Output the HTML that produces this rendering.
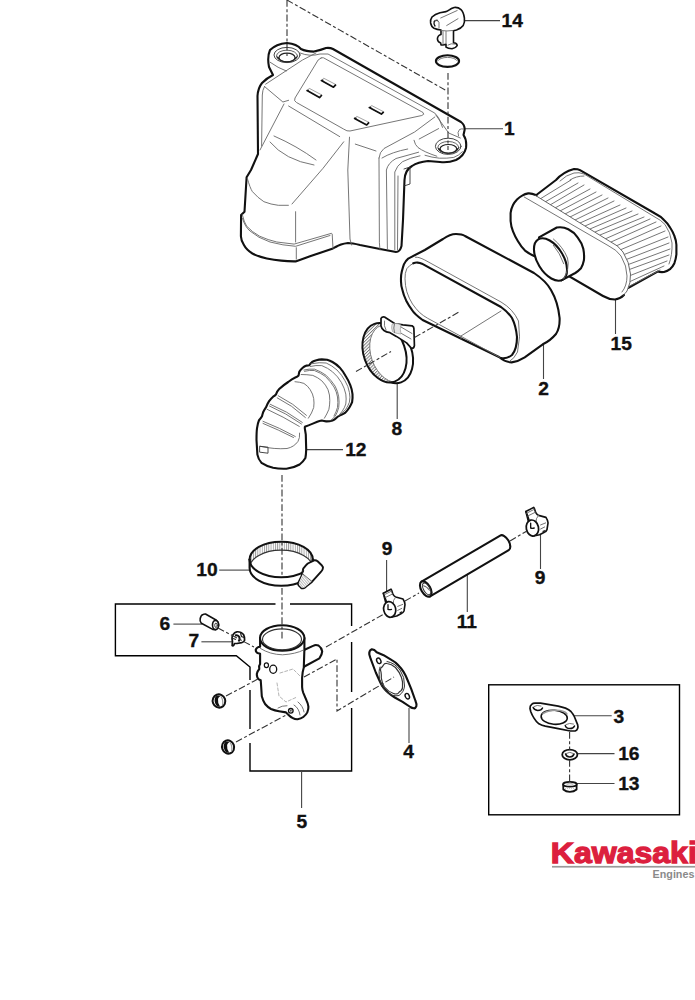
<!DOCTYPE html>
<html><head><meta charset="utf-8">
<style>
html,body{margin:0;padding:0;background:#fff;width:695px;height:1000px;overflow:hidden}
svg{display:block}
.lb{font-family:"Liberation Sans",sans-serif;font-weight:bold;font-size:19.2px;fill:#111;stroke:#111;stroke-width:0.35}
.ld{stroke:#444;stroke-width:1.1;fill:none}
.bx{stroke:#000;stroke-width:1.4;fill:none}
.ds{stroke:#333;stroke-width:1.1;fill:none;stroke-dasharray:6.8 2.4 3 2.4}
.o{stroke:#111;stroke-width:2.1;fill:none;stroke-linejoin:round;stroke-linecap:round}
.t{stroke:#666;stroke-width:0.9;fill:none;stroke-linejoin:round;stroke-linecap:round}
.w{fill:#fff}
</style></head><body>
<svg width="695" height="1000" viewBox="0 0 695 1000">
<!-- BOXES -->
<g class="bx">
<path d="M275.5 604 L115.4 604 L115.4 655.7 L236.3 655.7 L250 667 L250 680"/>
<path d="M290 604 L351.6 604 L351.6 626"/>
<path d="M351.6 642 L351.6 692"/>
<path d="M351.6 708 L351.6 771 L250 771 L250 743"/>
<path d="M250 690 L250 729"/>
<rect x="488.7" y="684.8" width="190.8" height="130"/>
</g>
<!-- LEADERS -->
<g class="ld">
<path d="M465 20.6 H500"/>
<path d="M462 128.7 H503"/>
<path d="M615.5 299.6 V334"/>
<path d="M543.5 344 V379"/>
<path d="M397.2 383 V419"/>
<path d="M306 449.6 H343"/>
<path d="M219.2 570.1 H249.7"/>
<path d="M173.4 624.1 H202"/>
<path d="M201.4 641.8 H232"/>
<path d="M386.6 560 V591"/>
<path d="M467.3 574.3 V612"/>
<path d="M540.5 534.5 V569"/>
<path d="M409 708 V743"/>
<path d="M301.6 771 V808"/>
<path d="M574.2 715.8 H611.7"/>
<path d="M578 753.6 H614.5"/>
<path d="M577 783.5 H614.5"/>
</g>
<!-- LABELS -->
<g class="lb">
<text x="501.5" y="27.3">14</text>
<text x="504.0" y="135.4">1</text>
<text x="610.5" y="349.6">15</text>
<text x="538.3" y="395.2">2</text>
<text x="391.5" y="434.9">8</text>
<text x="345.2" y="456.2">12</text>
<text x="196.3" y="576.3">10</text>
<text x="159.4" y="629.8">6</text>
<text x="188.4" y="646.5">7</text>
<text x="381.8" y="554.9">9</text>
<text x="456.7" y="628.0">11</text>
<text x="534.8" y="583.7">9</text>
<text x="403.2" y="757.7">4</text>
<text x="296.4" y="828.3">5</text>
<text x="613.6" y="722.5">3</text>
<text x="618.2" y="760.3">16</text>
<text x="618.2" y="790.2">13</text>
</g>
<!-- PARTS -->
<g id="p1">
<!-- outer contour -->
<path class="o w" d="M273 75 L269 67 Q267 57 270 50 Q276 44 287 43 Q297 44 301 49 Q306 51.5 314 51.6 Q321 50 326 48 Q330 47.5 333 49 L461 122 Q465 125 464.6 130 L463.5 135 Q467 140 466 148 Q464 156 456 160 Q448 163 440 162 L428 161 Q418 162 412 166 Q405 170 404.5 180 L403 220 L401.5 246 Q400 252 396 252 L380 249 L360 245 Q352 243 348 243 Q340 244 336 247 L336.5 246.5 L333 248.4 L310 256.3 L295.6 261.4 Q288 261.5 281.2 260.6 Q274 260 266.8 258.5 Q258 256.5 252.4 253.5 Q246.5 250 243.8 244.8 Q241 240 240.9 236.2 L241.1 215 L244.5 211.7 L246.6 177.2 L251 170 L258 154 L257.5 96 Q258 88 262 83 Q267 78 273 75 Z"/>
<!-- left boss -->
<ellipse cx="287" cy="55" rx="13" ry="7.6" class="t" style="stroke:#444;stroke-width:1"/>
<ellipse cx="287" cy="56" rx="10.5" ry="5.8" class="t" style="stroke:#555;stroke-width:0.9"/>
<path d="M276.5 56 A10.5 5.8 0 0 0 297.5 56 L295 57.5 A8 4.4 0 0 1 279 57.5 Z" style="fill:#222"/>
<ellipse cx="287" cy="57.5" rx="8" ry="4.4" class="t" style="stroke:#222;stroke-width:1.2"/>
<!-- right boss -->
<ellipse cx="448.2" cy="146.3" rx="12.8" ry="8.1" class="t" style="stroke:#444;stroke-width:1"/>
<ellipse cx="448.3" cy="147.5" rx="10.5" ry="6" class="t" style="stroke:#555;stroke-width:0.9"/>
<path d="M437.8 147.5 A10.5 6 0 0 0 458.8 147.5 L456.7 148.8 A8.3 4.3 0 0 1 440.1 148.8 Z" style="fill:#222"/>
<ellipse cx="448.4" cy="148.8" rx="8.3" ry="4.3" class="t" style="stroke:#222;stroke-width:1.2"/>
<path class="t" d="M425 155.3 Q432 157.5 439.4 158.2 Q447 158.5 453.8 157.4 Q459 155.5 462.4 151.7"/>
<path class="t" d="M458.5 136 Q457 132 459.5 129.5 Q461.5 128.5 463.5 129"/>
<path class="t" d="M435.8 115 L448.7 133 L460.3 138"/>
<!-- inner top lines -->
<path class="t" d="M300 53 Q310 57 320 54 L328 54 L434.8 113.1 Q439.5 118 440 121 L442.5 127.4"/>
<path class="t" d="M265.6 84.2 L302.5 60 L316 53"/>
<path class="t" d="M270.2 62.3 Q278 68 286.3 71"/>
<path class="t" d="M321 58 Q317.5 59.5 316.3 63 L295 98 Q293.5 101 296.5 102.5 L343.7 129.1 Q347 131.5 350 131 L421.8 115.5 Q425 114.5 423 112.5 L421.8 111.8 L323.5 57.8 Q322 57.5 321 58 Z"/>
<path class="t" d="M288.6 106 L339.7 136.6"/>
<path class="t" d="M264.5 86.5 L282.9 102 L288.6 100.3"/>
<path class="t" d="M264.5 86.5 Q262.4 90 262.3 95 L261.6 146"/>
<!-- slots -->
<path d="M321.4 80.5 L333.5 87.2 L335.9 84.6 L323.7 78.2 Z" style="fill:#fff;stroke:#999;stroke-width:0.9"/>
<path d="M323.4 80.4 L321.4 80.5 L333.5 87.2 L335.9 84.6" style="fill:none;stroke:#111;stroke-width:1.7;stroke-linejoin:round"/>
<path d="M307.1 90.6 L319.5 97.6 L321.9 95 L309.2 88.3 Z" style="fill:#fff;stroke:#999;stroke-width:0.9"/>
<path d="M308.9 90.5 L307.1 90.6 L319.5 97.6 L321.9 95" style="fill:none;stroke:#111;stroke-width:1.7;stroke-linejoin:round"/>
<path d="M369.3 107.5 L381.4 114.1 L383.7 111.8 L371.6 105.5 Z" style="fill:#fff;stroke:#999;stroke-width:0.9"/>
<path d="M371.3 107.7 L369.3 107.5 L381.4 114.1 L383.7 111.8" style="fill:none;stroke:#111;stroke-width:1.7;stroke-linejoin:round"/>
<path d="M354.6 118.4 L366.7 125 L369 122.4 L356.9 116.4 Z" style="fill:#fff;stroke:#999;stroke-width:0.9"/>
<path d="M356.59999999999997 118.60000000000001 L354.6 118.4 L366.7 125 L369 122.4" style="fill:none;stroke:#111;stroke-width:1.7;stroke-linejoin:round"/>
<!-- front face lines -->
<path class="t" d="M284 104 L260 150"/>
<path class="t" d="M349.5 137.2 L347.8 170 L350 239 L351.5 245"/>
<path class="t" d="M343.7 141.8 L323 168.3 L292 204"/>
<path class="t" d="M295.6 211.7 L295.6 242"/><path class="t" d="M296.3 247.7 L296.3 259.2"/>
<path class="t" d="M247.4 178.6 Q250 188 252.4 191.6 Q258 198 263.9 201.7 Q271 204.5 278.3 205.3 L288.4 205.3"/>
<path class="t" d="M274 136 Q297 146 316 160"/>
<path class="t" d="M270 142 Q285 160 314 165"/>
<path class="t" d="M355.3 144.1 L376 151"/>
<path class="t" d="M379 158 L379.4 242.8 L380 250"/>
<path class="t" d="M379 158 Q379.5 152 384 148.5 L414.6 132 L434.8 117"/>
<path class="t" d="M420 155.8 Q410 157.8 402.5 161.7 Q397 165.5 394.8 172 L394.8 249.7"/><path class="t" d="M398 176 L397.5 250"/><path class="t" d="M382 158 Q392 152 407.7 149"/>
<path class="t" d="M418.6 152.2 L396 158.5 Q388 163 386.4 170 L387.4 248.9"/>
<path class="t" d="M414 140.3 Q415 145 418 147.5 Q424 152 436.8 156.2"/>
<path class="t" d="M419.2 139 L438.6 128.6"/>
<!-- tab -->
<path class="t" style="stroke:#333" d="M404 169 L410 167 L410 184 L404 186"/>
<!-- bottom lip -->
<path class="t" d="M242.3 214.6 Q244 222 246.6 226.1 Q252 232 259.6 236.2 Q268 240 276.8 242 L294.1 244.1 L331.5 233.3 L332.2 234 L333 248.4"/>
<path class="t" d="M242.5 218.5 Q245 227 250 231 Q258 238 270 242 Q283 245.5 295.6 246.3 L330 235.5"/>
</g>
<g id="p14">
<path class="o w" style="stroke-width:1.6" d="M441 30 L441 34.5 Q437.5 35.5 437.4 39 Q437.6 42 440.7 43 L441 45 L443 45 L446 44.2 L446 47.2 Q448 48.6 452 48.7 Q456 48 457.2 45.5 Q457 43 453.5 42.7 L453.5 30.7 L456.5 30 Q461 28.5 463.2 25.5 Q465 21.7 464.4 18 Q463.5 12 461 9.7 Q458 7 454.2 7.5 Q451 8.5 449.7 9.7 Q447 11.6 446 11.6 L440 12.7 Q435 14 432 17 Q430 20 430.6 23 Q431.5 27 434 28.2 Q437 29.5 441 30 Z"/>
<path class="o" style="stroke-width:1.3" d="M435 26 Q433.5 24 434.2 21.5 Q435.5 20 437.5 20.5"/>
<path class="t" d="M434.5 20.5 Q437.5 19 439 22 L439 28"/>
<path class="t" d="M440.7 18 L457.2 10.5"/>
<path class="t" d="M446.7 25.5 L458 18.7"/>
<path class="t" d="M443 31.5 L443 44.2"/>
<path class="t" d="M446 31.5 L446 43.5"/>
<path class="t" d="M441 30.5 Q447 31.5 453 30.5"/>
<path class="t" d="M448 45 Q451 43 455 44"/>
<ellipse cx="447.5" cy="61.1" rx="11.6" ry="5.8" class="o" style="stroke-width:2.1"/>
<path class="t" d="M437.5 61 Q440 57.5 447.5 57.4 Q455 57.5 457.5 61"/>
</g>
<g id="p15">
<!-- back / pleat body silhouette -->
<path class="o w" d="M535 196 L556 180 Q563 172 574 169 Q578 169 580 170.2 L655 213.5 Q661 216.5 664 220 Q668 223.5 670.4 228 Q673 232 674.4 236 Q676.2 240.5 676.4 244.8 L676.4 254.4 Q675.8 259.5 674.4 263.2 Q672.8 266.5 670.4 268.8 Q667.5 271 664 272 Q660.5 272.3 657.6 271.6 L628 288 L535 196 Z"/>
<!-- back rim thin -->
<path class="t" d="M560 181 Q566 175 574 173 Q579 172 584 174 L654 216.5 Q661 220 665 224.5 Q670.5 232 672 243 Q672.5 255 669 264"/>
<path class="t" d="M570 180 Q576 176 584 176"/>
<!-- pleats -->
<g class="t" style="stroke:#666;stroke-width:0.9">
<path d="M540 199 L571 180"/><path d="M545 202 L578 183"/><path d="M550 205 L584 185"/><path d="M555 208 L590 189"/>
<path d="M560 211 L596 192"/><path d="M565 214 L602 195"/><path d="M570 217 L608 198"/><path d="M575 220 L614 201"/>
<path d="M580 223 L620 205"/><path d="M585 226 L626 208"/><path d="M590 229 L632 211"/><path d="M595 232 L638 214"/>
<path d="M600 235 L644 217"/><path d="M605 239 L650 219"/><path d="M611 242 L656 222"/><path d="M616 246 L661 226"/>
<path d="M620 250 L665 231"/><path d="M623 255 L668 237"/><path d="M625 260 L669 243"/><path d="M627 265 L670 249"/>
<path d="M628 270 L669 255"/><path d="M629 276 L667 261"/><path d="M629 282 L664 266"/><path d="M628 287 L660 270"/>
</g>
<!-- front cap -->
<path class="w" style="stroke:none" d="M535.4 195.4 Q531 193 528.2 193.4 Q525 194 522.6 195.4 Q519.5 197 517 199.4 Q514.5 202 513 205 Q511 209 510.6 213 L510.6 221 Q511 226.5 513 231.4 Q515 236.5 517.8 241 Q521 246.5 525 250.6 Q529.5 254 534.6 256.2 L603 296 Q609 299.5 615 299.5 Q623 298 627 291 Q631 283 630.5 274 Q629.5 262 623 252 Q618 246 610 241.5 Z"/>
<path class="o" d="M536.5 195.2 Q531 193 528.2 193.4 Q525 194 522.6 195.4 Q519.5 197 517 199.4 Q514.5 202 513 205 Q511 209 510.6 213 L510.6 221 Q511 226.5 513 231.4 Q515 236.5 517.8 241 Q521 246.5 525 250.6 Q529.5 254 534.6 256.2 L603 296 Q609 299.5 615 299.5 Q620 299 624 295"/>
<path class="t" style="stroke:#555" d="M535.4 195.4 L610 241.5 Q618 245 623 252 Q629.5 262 630.5 274 Q631 283 627 291 Q625 294 623 295.5"/>
<path class="t" d="M524.2 197 L608 245.5 Q617 250 621 256 Q627 266 627 276 Q627 286 622 292"/>
<!-- tube -->
<path class="o w" d="M539 237.3 L556.8 227.5 Q563 226.5 568.3 229.2 Q574 232 577.6 237.3 Q582 243 583.3 248.8 Q584.5 255 583.9 260.3 Q583 265 581 268.3 Q578.5 271 575.3 273 L561.4 280.4 L545 270 Z"/>
<ellipse cx="550.5" cy="259.5" rx="23.5" ry="13" transform="rotate(58.6 550.5 259.5)" class="o w"/>
<path class="t" d="M553.4 239 Q563 247 567.5 258 Q570 268 563.7 279"/>
<path class="t" d="M553.4 245.3 Q560 253 563.7 263.7"/>
</g>
<g id="p2">
<path class="o w" d="M424.8 250 L443 239 Q450 234 456 234 Q462 234 465 236 L534 273 Q546 281 551 290 Q558 302 559.6 318 Q560 328 556 334 Q550 341 542.8 344.3 L524.7 357.3 Q518 361.5 511.7 362.4 Q505 362 499 357 L422.6 320 Q414.5 314 411.8 309.7 Q408.5 305 406.1 300.4 Q403.5 295 402.5 290.3 Q400.8 285 401 280.2 Q400.8 275.5 401.8 271.6 Q402.8 267.5 403.9 264.4 Q405.8 260.5 408.2 258.6 Z"/>
<path class="t" d="M415.4 257.2 Q417.5 257.2 419 257.6 Q422 258.5 424.8 260 L501 302 Q513 309 518.5 321 Q521 337 517.5 352 Q514 359 510 361"/>
<path class="t" d="M413.3 263.3 Q409 265.5 406.8 268.7 Q404.8 273 405 278.8 Q405.2 286 406.8 291.7 Q409 298.5 412.5 304 Q416 309 419.7 312.6 Q423.5 316 427.7 318.3 L501 358"/>
<path class="o" d="M413.3 263.3 Q415.5 262.4 417.6 262.6 Q420 262.8 421.9 263.7 L501 307 Q508 312 512 318 Q516 326 517 337 Q517 349 512 355 Q507 359 501 358"/>
<path class="t" d="M461 336 L501 311"/>
<path class="t" d="M461 336 L461 339"/>
</g>
<defs>
<pattern id="hatch8" patternUnits="userSpaceOnUse" width="2.3" height="6" patternTransform="rotate(-25)">
<rect width="2.3" height="6" fill="#fff"/>
<rect width="0.9" height="6" fill="#777"/>
</pattern>
<clipPath id="front8"><ellipse cx="384.5" cy="352.7" rx="30.6" ry="20.8" transform="rotate(70.7 384.5 352.7)"/></clipPath>
</defs>
<g id="p8">
<!-- back rim -->
<ellipse cx="391" cy="353.5" rx="30.6" ry="20.8" transform="rotate(70.7 391 353.5)" class="o w" style="stroke-width:2"/>
<g clip-path="url(#front8)">
<ellipse cx="384.5" cy="352.7" rx="30.6" ry="20.8" transform="rotate(70.7 384.5 352.7)" style="fill:url(#hatch8)"/>
<ellipse cx="391" cy="353.5" rx="29.8" ry="20" transform="rotate(70.7 391 353.5)" class="w" style="stroke:#777;stroke-width:0.9"/>
</g>
<!-- front rim -->
<ellipse cx="384.5" cy="352.7" rx="30.6" ry="20.8" transform="rotate(70.7 384.5 352.7)" class="o" style="stroke-width:2"/>
<!-- screw housing -->
<path class="o w" style="stroke-width:1.7" d="M381 318.4 Q382 316.6 384.5 317 L394.6 323.5 L402.9 324.9 L412.1 325.8 Q414 327 413.9 328.5 L414.4 345.6 Q414 348.6 411.5 348.4 L406.6 342.9 L396.4 336.4 L390 332.7 Q386 332 384 330.5 Q381.5 328.5 381 326 Z"/>
<path d="M392 324.3 Q395 322.8 398 323.8 L401 325 Q399.5 329 401 334 L397.5 333.5 Q394 332.8 392.5 331.5 Q391 328 392 324.3 Z" style="fill:#e4e4e4;stroke:#999;stroke-width:0.7"/>
<path class="t" d="M394.5 323.6 Q393 328 394.5 332.6"/>
<path class="t" d="M401 327 L412 333.5"/>
<path class="t" d="M401.5 333.5 L411 339"/>
<path class="t" d="M384.5 321 Q383.5 326 386 330"/>
</g>
<g id="p12">
<path class="o w" d="M257.4 454.6 L256.5 440 Q256.5 432 257 428.4 Q257.8 423 259 420.3 Q261 418 262 416.3 Q262.5 414 263.1 412.3 Q264.5 409.5 266.1 407.2 Q267.5 403.5 269.1 401.2 Q271 398.5 273.1 396.7 Q275 395.5 276.1 394.2 Q277.3 391 279.2 389.1 Q283.5 385 288.2 382 Q292 379 295.3 377.5 Q297.5 376.5 298.6 375.4 Q299 373 299.3 371.8 Q300.5 369.5 302.1 368.3 Q304.5 366.3 306.6 365.6 L309.3 365.2 Q310.5 363 312 362 Q314 360.8 316.4 360.2 Q319 359.5 321.8 359.4 Q324.5 359.4 327.1 359.8 Q330 360.6 332.5 362 Q336.5 364.3 339.6 367.4 Q343.3 371.5 345.8 376.3 Q348.5 380.5 350.3 385.2 Q352 389.5 352.5 394.1 Q352.8 398.5 352.1 402.2 Q351 405 349.4 407.5 Q347.5 410.5 345 412.9 Q342.5 414.6 339.6 415.6 Q337.5 416.7 336 418.2 Q334.5 419.7 332.5 420.5 Q329.5 421.5 326.2 421.4 Q324 421 321.8 420.5 Q319.5 421 317.3 421.8 L312.8 423.6 Q308 425.5 305.4 426.4 Q304.5 427.2 304.8 428.4 L305.8 434.7 L306.2 449.6 Q306 455 305.4 458 Q303 462 299.6 464.5 Q294 467.8 286.4 468.7 Q279 469 273.1 467.8 Q266 466 261.5 462.9 Q258.2 459 257.4 454.6 Z"/>
<!-- cuff rings -->
<g class="t" style="stroke:#666">
<path d="M311 363.8 Q320 362 326.2 363 Q332 365.5 337 370 Q342 375 345 380.8 Q348.5 386.5 349.4 392.4 Q350.5 397 349.4 402.2 Q348 406 345.8 409.3 Q343 412.5 339.6 414.7"/>
<path d="M310.2 366.5 Q316 365 321.8 365.6 Q328 368 332.5 371.8 Q338 376.5 341.4 382.5 Q344.5 388 345.8 394.1 Q346.5 399 345.8 404 Q344.5 408 342.3 411.1 L338.7 415.6"/>
<path d="M303.9 370 Q309 368.7 314.6 369.2 Q321 371.5 326.2 375.4 Q331.5 380.5 335.1 386.1 Q338 391.5 338.7 396.8 Q339.5 402.5 338.7 407.5 Q337.5 412.5 335.1 416.4 L330.7 420.5"/>
<path d="M304.5 371.3 Q309.5 370 314.3 370.5 Q320.5 372.7 325.5 376.5 Q330.5 381.5 334 387 Q336.8 392 337.5 397 Q338.2 402.5 337.5 407.3 Q336.3 412 334 416"/>
<path d="M301.2 374.5 Q307 374.5 312.8 375.4 Q318 377.5 321.8 380.8 Q326 385 328 389.7 Q330 395 329.8 400.4 Q329.8 405 328.9 409.3 Q327 414 324.4 418.2"/>
<path d="M295 381.7 Q300 382 303.9 383.4 Q308 386 310.2 389.7 Q313 394 313.7 398.6 Q314.3 403 313.7 407.5 Q312 413 308.4 418.2"/>
</g>
<!-- bend pleats -->
<g class="t" style="stroke:#666">
<path d="M278.2 395.7 Q293 403 306.4 415.3"/>
<path d="M277.2 397.8 Q292 405 305.4 417.5"/>
<path d="M270.1 404.2 Q287 411 302.3 422.4"/>
<path d="M269.5 406 Q286 413 301.5 424"/>
<path d="M267.1 409.3 Q283 416.5 299.3 426.4"/>
<path d="M263 421.3 Q280 428 295.3 436.5"/>
<path d="M263 423.4 Q279 430 293.5 437.5"/>
</g>
<path class="t" d="M299.6 433.1 Q300 438 298 441.4 Q294 447 287 448.5 Q275 449.5 260 446.3"/>
<path class="t" style="stroke:#333" d="M260 446.3 L268 447.2 L268 453.2 L260 452.2 Z"/>
</g>
<defs>
<pattern id="hatch10" patternUnits="userSpaceOnUse" width="2.2" height="20">
<rect width="2.2" height="20" fill="#fff"/>
<rect width="0.9" height="20" fill="#999"/>
</pattern>
<pattern id="hatch10t" patternUnits="userSpaceOnUse" width="2" height="20" patternTransform="rotate(-40)"><rect width="2" height="20" fill="#fff"/><rect width="0.8" height="20" fill="#aaa"/></pattern>
</defs>
<g id="p10">
<!-- back band inner surface (hatched) -->
<path d="M249.6 559.5 A31.6 17.8 0 0 1 312.8 559.5 L312.8 568 A31.6 17.8 0 0 0 249.6 568 Z" style="fill:url(#hatch10)"/>
<path class="w" d="M249.6 568 A31.6 17.8 0 0 0 312.8 568 L312.8 559.5 A31.6 17.8 0 0 1 249.6 559.5 Z" style="stroke:none"/>
<path class="w" d="M249.6 568 A31.6 17.8 0 0 1 312.8 568 A31.6 17.8 0 0 1 249.6 568 Z" style="stroke:none"/>
<path class="o" d="M249.6 568 A31.6 17.8 0 0 1 312.8 568" style="stroke-width:1.2;stroke:#333"/>
<path class="o" d="M249.6 559.5 A31.6 17.8 0 0 1 312.8 559.5"/>
<path class="o" d="M249.6 559.5 A31.6 17.8 0 0 0 312.8 559.5"/>
<path class="o" d="M249.6 559.5 L249.6 568 A31.6 17.8 0 0 0 312.8 568 L312.8 559.5"/>
<!-- screw housing -->
<path class="o w" style="stroke-width:1.9" d="M307.8 563.5 L314.2 560.3 Q316 560 317.6 561.2 L321.7 565.2 Q323.5 567 322.8 568.7 Q322.3 570.5 321.1 571.6 L311.9 581.9 L306.1 586.5 Q304.5 588.3 303.2 588.3 Q301.8 588.5 300.9 587.7 L298.6 585.4 Q297.8 584 298.1 583.1 L301.5 576.2 L302.7 571 Q303 569.5 303.2 568.7 L306.1 565.2 Z"/>
<path d="M302.7 574.2 L311.6 581.6 L306.1 586.2 Q304.5 587.8 303.2 587.8 Q302 588 301.2 587.2 L299.2 585.2 Q298.5 584 298.8 583.1 L301.5 576.6 Z" style="fill:url(#hatch10t);stroke:none"/>
<path class="t" style="stroke:#555" d="M302.7 573.9 L311.9 581.4"/>
<path d="M302 570.5 Q303.2 569 304.2 570.6 Q304.3 572.5 302.5 572.8" style="fill:#222;stroke:none"/>
</g>
<g id="p5">
<!-- side tube -->
<path class="o w" d="M303.5 667 L319.4 658.3 Q322 655 322.2 651.4 Q321.5 647.5 318.5 645.5 Q315.5 644.5 313.6 645.6 L304 650"/>
<!-- body -->
<path class="o w" d="M260.1 638 L260.1 646.8 Q257 647 255.8 649.5 Q255.5 652 257.5 653 L260.1 653.7 L260.1 664 Q258.7 665.5 259.3 669 Q257.5 671 256.8 674 Q256.8 678 259 679.5 L260.7 680.2 L261.2 687 L261.8 696.3 Q263 701 265.3 704.3 Q268 707.5 271 709 Q275 710.6 279 711.2 L286 712.4 Q287.5 714 288.3 714.7 Q290.5 717 292.9 718.1 Q295 719.4 297.5 719.3 Q301 718.7 303.3 717 Q306 715 307.3 712.4 Q308.6 709 308.4 706.6 Q308 703.5 306.7 700.9 L303.3 692.8 Q302.2 690 302.1 687 L302.1 677.9 Q302.3 672 303.8 667.5 L304.4 649 L304.4 638 Z"/>
<ellipse cx="282.2" cy="638" rx="22.2" ry="12.7" class="o w"/>
<ellipse cx="282" cy="639.3" rx="19.5" ry="10.4" class="o" style="stroke-width:1.1;stroke:#333"/>
<path class="t" d="M260.5 648.5 Q270 654.5 282.5 654.8 Q296 654 303.5 650"/>
<ellipse cx="266.4" cy="665.2" rx="2.1" ry="2.4" class="o" style="stroke-width:1.2"/>
<ellipse cx="273.2" cy="669.3" rx="3.5" ry="4.1" class="o" style="stroke-width:1.3"/>
<ellipse cx="290.8" cy="710.8" rx="2.3" ry="2.3" class="o" style="stroke-width:1.3"/>
<circle cx="290.8" cy="710.8" r="1" style="fill:#555"/>
<path class="t" d="M278 708 Q282 705.5 287 705.7"/>
<path class="t" d="M294 705 Q299 708 300 715"/>
<path class="t" d="M298 702 Q303 706 304 712"/>
<path class="t" style="stroke-dasharray:3 2;stroke:#aaa" d="M280 673 L293 669 L300 676 M277 683 L279 696 L286 702 L297 697"/>
</g>
<g id="p6">
<path class="o w" style="stroke-width:1.6" d="M205.5 614 L216 620 Q218.7 622 218.7 625 Q218.5 628.5 215.5 629.8 L212.7 629.4 L201.4 623.3 Q199.5 621.5 200.2 618.5 Q201 615 203 614.4 Q204.5 613.8 205.5 614 Z"/>
<ellipse cx="215.5" cy="625" rx="3" ry="4.6" class="o w" style="stroke-width:1.6"/>
<ellipse cx="216" cy="625.3" rx="1.3" ry="2.2" class="t" style="stroke:#333"/>
</g>
<g id="p7">
<path class="o w" style="stroke-width:1.7" d="M233.7 633.8 Q235 632 236.9 631.8 Q241 631.5 243.5 634.5 Q244.8 637 244.6 640.2 Q244 642 241.7 642.6 L236.9 643.5 L234.5 643.5 Q234 645.5 232.9 645.9 Q231.8 645.8 232.1 644.7 L232.5 641.8 Q231.8 639 232.1 637 Q232.5 635 233.7 633.8 Z"/>
<path d="M235 635.5 Q237.5 634.5 239 636.5 Q240.5 639 238.5 641.5" style="fill:none;stroke:#111;stroke-width:1.9"/>
<path d="M240.5 633 L241.5 636.5 L244 637.5" style="fill:none;stroke:#222;stroke-width:1.2"/>
<path d="M233 638.5 L236 639.5" style="fill:none;stroke:#222;stroke-width:1.2"/>
</g>

<g id="nuts">
<ellipse cx="219" cy="701" rx="6.3" ry="6.7" transform="rotate(-20 219 701)" class="o w" style="stroke-width:2"/>
<path d="M215.5 696.5 Q213.5 701 216 705 Q218 707.5 220 706.5 Q217.5 703 218 699 Q218.5 697 220.5 696 Q218 695 215.5 696.5 Z" style="fill:#111"/>
<path d="M221 696.5 Q223.5 700 222.5 705" style="fill:none;stroke:#999;stroke-width:1.2"/>
<ellipse cx="228.1" cy="747" rx="6" ry="6.7" transform="rotate(-20 228.1 747)" class="o w" style="stroke-width:2"/>
<path d="M224.6 742.5 Q222.6 747 225.1 751 Q227.1 753.5 229.1 752.5 Q226.6 749 227.1 745 Q227.6 743 229.6 742 Q227.1 741 224.6 742.5 Z" style="fill:#111"/>
<path d="M230.1 742.5 Q232.6 746 231.6 751" style="fill:none;stroke:#999;stroke-width:1.2"/>
</g>

<g id="p4">
<path class="o w" d="M369.3 654.4 Q368.8 651 371.5 649.4 Q374 649 376.7 652.2 L383.6 655.2 L392.2 660.4 Q396 662.5 398.3 665.2 Q401.5 668.5 403.4 671.6 Q405.5 675 406.9 678.5 L411.2 688.9 L415.5 701 Q417 704.5 416.4 706.2 Q415.5 708.6 413.8 708.3 Q412 708 410.3 707 L402.6 701.8 L394.8 697.5 Q391.5 695.5 388.8 693.2 Q385.8 690.5 383.6 688 Q381.5 685 380.1 682 L375.8 672.5 L370.6 658.7 Z"/>
<path class="o" style="stroke-width:1.2;stroke:#333" d="M387 663.5 Q384.5 663 383.5 665 Q382.5 667 380.8 668 Q380 670 381 672 Q381.5 675 381.3 678 Q382 683 384.5 687 Q388 691.5 393.5 693.5 Q396 694.5 398 693.5 Q399.5 691.5 401 690.8 Q403 689 402.5 686 Q403 682 401.5 677.5 Q399.5 672 395.5 667.5 Q391.5 664 387 663.5 Z"/>
<path class="t" style="stroke:#333;stroke-width:1" d="M387 661.5 Q395 663 400 670 Q405 677 404.5 686 Q404 692 399 695.5 Q393 697 386.5 692 Q381 687 379.5 679 Q378.5 670 380 667"/>
<ellipse cx="378.8" cy="660.8" rx="2" ry="2.9" transform="rotate(-25 378.8 660.8)" class="o" style="stroke-width:1.4"/>
<ellipse cx="407.3" cy="696.2" rx="2" ry="2.9" transform="rotate(-25 407.3 696.2)" class="o" style="stroke-width:1.4"/>
</g>
<g id="p11">
<g transform="translate(425.8 589) rotate(-30.4)">
<path class="o w" d="M0 -8.45 L91.2 -8.45 A4.6 8.45 0 0 1 91.2 8.45 L0 8.45 Z"/>
<ellipse cx="0" cy="0" rx="4.6" ry="8.45" class="o w"/>
<ellipse cx="0.8" cy="0.3" rx="3.1" ry="6.4" class="t" style="stroke:#333;stroke-width:1.1"/>
<path class="t" d="M-0.5 -4 Q2 -2 2.5 3"/>
</g>
</g>
<g id="p3">
<path class="o w" style="stroke-width:1.7" d="M530 708.5 Q529.8 705.5 531.6 704.4 Q533 703.2 534.9 703.2 L540.5 703.2 L558.2 706.1 Q562 707 565.5 708.1 Q569 709.5 571.1 711.7 Q573.2 714 574.3 716.5 L577.6 724.6 Q578.3 727 577.6 728.6 Q577 730.5 575.2 731 L570.3 731 L558.2 728.6 L545.3 726.2 Q542 725.5 538.9 723.8 Q536 721.5 534 718.1 Q532 715 530.8 711.7 Z"/>
<ellipse cx="554.2" cy="717.3" rx="13.1" ry="7" transform="rotate(5 554.2 717.3)" class="o" style="stroke-width:1.6"/>
<path class="t" d="M543 713.5 Q550 709.5 560 710.5 Q566 711.5 567 714" style="stroke:#999;stroke-width:1.5"/>
<path class="o" style="stroke-width:1.5" d="M533.2 707.5 Q534 710 537.7 710.4 Q541.5 710.4 542.5 708"/>
<path class="t" d="M534 706.5 Q537 704.5 541 706"/>
<path class="o" style="stroke-width:1.5" d="M565.3 725.6 Q566 728.3 569.9 728.6 Q573.5 728.6 574.5 726"/>
<path class="t" d="M566 724.5 Q569.5 722.5 573.5 724"/>
</g>
<g id="p16">
<ellipse cx="569.8" cy="754.7" rx="7.6" ry="5.1" class="o w" style="stroke-width:1.8"/>
<path class="o" style="stroke-width:1.6" d="M565.6 754 Q566.5 757 569.8 757 Q573 757 574 754"/>
<path class="t" d="M566 753.5 Q569.8 751 573.6 753.5"/>
</g>
<g id="p13">
<path class="o w" style="stroke-width:1.8" d="M563.2 784.3 L563.3 789.5 Q566 791.8 569.8 791.8 Q574 791.8 576.6 789.5 L576.6 784.3 Z"/>
<ellipse cx="569.9" cy="784.3" rx="6.8" ry="2.4" class="o w" style="stroke-width:1.8"/>
<path d="M566.5 784.3 Q569.9 782.7 573.3 784.3" style="fill:none;stroke:#bbb;stroke-width:1.3"/>
<path d="M565 788.5 L575 788.5" style="fill:none;stroke:#ccc;stroke-width:1.2;stroke-dasharray:1 1"/>
</g>
<defs>
<g id="clip9">
<!-- local coords: ring center at 0,0 -->
<path class="o w" style="stroke-width:1.6" d="M-6.4 -16.1 L1.3 -20.2 L2.1 -18.7 L3.3 -15 Q4.5 -13 6 -12.4 L13.3 -10.4 Q15.5 -7 15.3 -4.7 L14.3 1.6 Q13.5 3.5 11.7 4.1 L7 6.6 L0 8 L-3 -3 Z"/>
<path class="o" style="stroke-width:1.5" d="M-6.4 -16.1 L-4.7 -11.9 L-3.3 -7.8"/>
<path class="t" d="M-5.7 -14.5 L1.8 -18.3"/>
<path class="t" d="M-4.5 -11.8 L3 -15.5"/>
<path class="t" d="M6 -12.4 Q3 -9 3.5 -6"/>
<path class="t" d="M8 -3 L13 -5 M8 1 L12 -1"/>
<ellipse cx="0" cy="0" rx="6" ry="7.9" transform="rotate(-12)" class="o w" style="stroke-width:1.7"/>
<path class="o" style="stroke-width:1.3" d="M-1.7 -4.7 L-1.7 0 Q0 0.6 1.8 0"/>
<path d="M10 3.5 L12.5 2.5" style="stroke:#222;stroke-width:1.4"/>
</g>
</defs>
<use href="#clip9" transform="translate(389.7 609.4)"/>
<use href="#clip9" transform="translate(532.4 528) scale(1.02)"/>

<!-- DASHED -->
<g class="ds">
<path d="M287 0 L447 91"/>
<path d="M287 0 L287 57"/>
<path d="M448 73 L448 150"/>
<path d="M356 371.5 L391 351.5"/><path d="M414.5 337.5 L459 312"/>
<path d="M282 475 L282 576"/><path d="M282 588 L282 641"/>
<path d="M326 647 L384 614"/>
<path d="M405 601 L419 593"/>
<path d="M510 541 L527 531"/>
<path d="M304 677 L337 659 L337 711 L394 677"/>
<path d="M218 628 L254 647"/>
<path d="M226 696 L258 679"/>
<path d="M236 742 L288 714"/>
<path d="M569.6 732 L569.6 750"/><path d="M569.6 760 L569.6 782"/>
</g>

<!-- LOGO -->
<g>
<text x="550.8" y="862.6" textLength="146" lengthAdjust="spacingAndGlyphs" style="font-family:'Liberation Sans',sans-serif;font-weight:bold;font-size:29.8px;fill:#dc1f3e;stroke:#dc1f3e;stroke-width:1.3">Kawasaki</text>
<rect x="552" y="865.9" width="143" height="1.7" fill="#9a9a9a"/>
<text x="652.6" y="878" textLength="41.8" lengthAdjust="spacingAndGlyphs" style="font-family:'Liberation Sans',sans-serif;font-weight:bold;font-size:10px;fill:#8a8a8a">Engines</text>
</g>
</svg>
</body></html>
